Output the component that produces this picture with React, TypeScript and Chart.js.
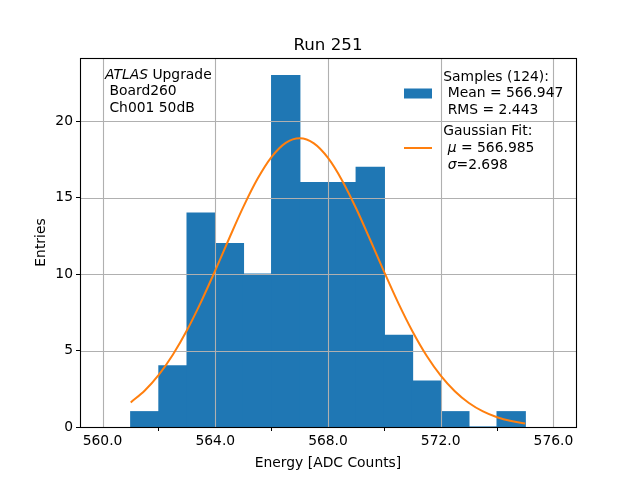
import React, { useEffect, useRef } from "react";
import { Chart, registerables } from "chart.js";

Chart.register(...registerables);

// Histogram bins (left edges, width 1) and counts
const binCenters = [561.5, 562.5, 563.5, 564.5, 565.5, 566.5, 567.5, 568.5, 569.5, 570.5, 571.5, 572.5, 573.5, 574.5];
const binCounts = [1, 4, 14, 12, 10, 23, 16, 16, 17, 6, 3, 1, 0, 1];

// Gaussian fit curve
const fitX = [561, 561.5, 562, 562.5, 563, 563.5, 564, 564.5, 565, 565.5, 566, 566.5, 567, 567.5, 568, 568.5, 569, 569.5, 570, 570.5, 571, 571.5, 572, 572.5, 573, 573.5, 574, 574.5, 575];
const fitY = [1.61, 2.39, 3.43, 4.75, 6.35, 8.21, 10.25, 12.37, 14.42, 16.24, 17.68, 18.6, 18.9, 18.56, 17.61, 16.14, 14.3, 12.24, 10.12, 8.09, 6.25, 4.66, 3.36, 2.34, 1.57, 1.02, 0.64, 0.39, 0.23];

const xTicks = [560, 564, 568, 572, 576];
const yTicks = [0, 5, 10, 15, 20];

const titleText = "Run 251";
const xLabel = "Energy [ADC Counts]";
const yLabel = "Entries";
const boxLines = ["Upgrade", " Board260", " Ch001 50dB"];
const boxItalic = "ATLAS";
const legendSamples = ["Samples (124):", " Mean = 566.947", " RMS = 2.443"];
const legendFit = ["Gaussian Fit:", " = 566.985", "=2.698"];

const FONT = "'DejaVu Sans', sans-serif";
const BLUE = "#1f77b4";
const ORANGE = "#ff7f0e";

export default function App() {
  const ref = useRef<HTMLCanvasElement | null>(null);

  useEffect(() => {
    document.body.style.margin = "0";
    const canvas = ref.current!;
    const gridPlugin = {
      id: "mplGrid",
      afterDatasetDraw(chart: any, args: any) {
        if (args.index !== 0) return;
        const { ctx, chartArea: a, scales } = chart;
        ctx.save();
        ctx.strokeStyle = "#b0b0b0";
        ctx.lineWidth = 1.1;
        for (const v of xTicks) {
          const px = Math.round(scales.x.getPixelForValue(v)) + 0.5;
          ctx.beginPath();
          ctx.moveTo(px, a.top);
          ctx.lineTo(px, a.bottom);
          ctx.stroke();
        }
        for (const v of yTicks) {
          const py = Math.round(scales.y.getPixelForValue(v)) + 0.5;
          ctx.beginPath();
          ctx.moveTo(a.left, py);
          ctx.lineTo(a.right, py);
          ctx.stroke();
        }
        ctx.restore();
      },
      afterDraw(chart: any) {
        const { ctx, chartArea: a } = chart;
        ctx.save();
        ctx.strokeStyle = "#000";
        ctx.lineWidth = 1.1;
        ctx.strokeRect(Math.round(a.left) + 0.5, Math.round(a.top) + 0.5, Math.round(a.right - a.left), Math.round(a.bottom - a.top));
        const cx = (a.left + a.right) / 2;
        ctx.fillStyle = "#000";
        // title
        ctx.font = `16.67px ${FONT}`;
        ctx.textAlign = "center";
        ctx.textBaseline = "alphabetic";
        ctx.fillText(titleText, cx, 49.5);
        // x label
        ctx.font = `13.89px ${FONT}`;
        ctx.fillText(xLabel, cx, 467);
        // y label
        ctx.save();
        ctx.translate(45, (a.top + a.bottom) / 2);
        ctx.rotate(-Math.PI / 2);
        ctx.fillText(yLabel, 0, 0);
        ctx.restore();
        // text box
        ctx.textAlign = "left";
        ctx.font = `italic 13.89px ${FONT}`;
        const bx = 105;
        ctx.fillText(boxItalic, bx, 78.7);
        const w = ctx.measureText(boxItalic + " ").width;
        ctx.font = `13.89px ${FONT}`;
        ctx.fillText(boxLines[0], bx + w, 78.7);
        ctx.fillText(boxLines[1], bx, 95.4);
        ctx.fillText(boxLines[2], bx, 112.1);
        // legend
        const lx = 443.3;
        const sb = [80.5, 97.2, 113.9];
        legendSamples.forEach((t, i) => ctx.fillText(t, lx, sb[i]));
        ctx.fillStyle = BLUE;
        ctx.fillRect(404, 88.5, 28, 10);
        const fb = [134.5, 151.5, 168.5];
        ctx.fillStyle = "#000";
        ctx.fillText(legendFit[0], lx, fb[0]);
        const sp = ctx.measureText(" ").width;
        ctx.font = `italic 13.89px ${FONT}`;
        ctx.fillText("\u03bc", lx + sp, fb[1]);
        const mw = ctx.measureText("\u03bc").width;
        ctx.font = `13.89px ${FONT}`;
        ctx.fillText(legendFit[1], lx + sp + mw, fb[1]);
        ctx.font = `italic 13.89px ${FONT}`;
        ctx.fillText("\u03c3", lx + sp, fb[2]);
        const sw = ctx.measureText("\u03c3").width;
        ctx.font = `13.89px ${FONT}`;
        ctx.fillText(legendFit[2], lx + sp + sw, fb[2]);
        ctx.strokeStyle = ORANGE;
        ctx.lineWidth = 2;
        ctx.beginPath();
        ctx.moveTo(404, 148);
        ctx.lineTo(432, 148);
        ctx.stroke();
        ctx.restore();
      },
    };

    const chart = new Chart(canvas, {
      type: "bar",
      data: {
        datasets: [
          {
            type: "bar",
            data: binCenters.map((x, i) => ({ x, y: binCounts[i] })),
            backgroundColor: BLUE,
            borderWidth: 0,
            barPercentage: 1,
            categoryPercentage: 1,
            inflateAmount: 0.6,
            order: 1,
          } as any,
          {
            type: "line",
            data: fitX.map((x, i) => ({ x, y: fitY[i] })),
            borderColor: ORANGE,
            borderWidth: 2,
            pointRadius: 0,
            fill: false,
            cubicInterpolationMode: "monotone",
            order: 0,
          } as any,
        ],
      },
      options: {
        responsive: false,
        animation: false,
        devicePixelRatio: 1,
        layout: { padding: { left: 0, right: 64, top: 58, bottom: 0 } },
        plugins: { legend: { display: false }, tooltip: { enabled: false }, title: { display: false } },
        scales: {
          x: {
            type: "linear",
            min: 559.2,
            max: 576.8,
            offset: false,
            afterBuildTicks: (s: any) => {
              s.ticks = xTicks.map((v) => ({ value: v }));
            },
            afterFit: (s: any) => {
              s.height = 53;
            },
            ticks: {
              font: { family: "DejaVu Sans", size: 13.89 },
              color: "#000",
              padding: 2,
              maxRotation: 0,
              autoSkip: false,
              callback: (v: any) => Number(v).toFixed(1),
            },
            grid: { display: true, drawOnChartArea: false, drawTicks: true, tickLength: 4, tickColor: "#000", tickWidth: 1 },
            border: { display: true, color: "#000", width: 1 },
          },
          y: {
            type: "linear",
            min: 0,
            max: 24.15,
            afterBuildTicks: (s: any) => {
              s.ticks = yTicks.map((v) => ({ value: v }));
            },
            afterFit: (s: any) => {
              s.width = 80;
            },
            ticks: {
              font: { family: "DejaVu Sans", size: 13.89 },
              color: "#000",
              padding: 3,
              autoSkip: false,
              callback: (v: any) => String(v),
            },
            grid: { display: true, drawOnChartArea: false, drawTicks: true, tickLength: 4, tickColor: "#000", tickWidth: 1 },
            border: { display: true, color: "#000", width: 1 },
          },
        },
      } as any,
      plugins: [gridPlugin],
    });
    return () => chart.destroy();
  }, []);

  return <canvas ref={ref} width={640} height={480} style={{ display: "block", width: 640, height: 480 }} />;
}
